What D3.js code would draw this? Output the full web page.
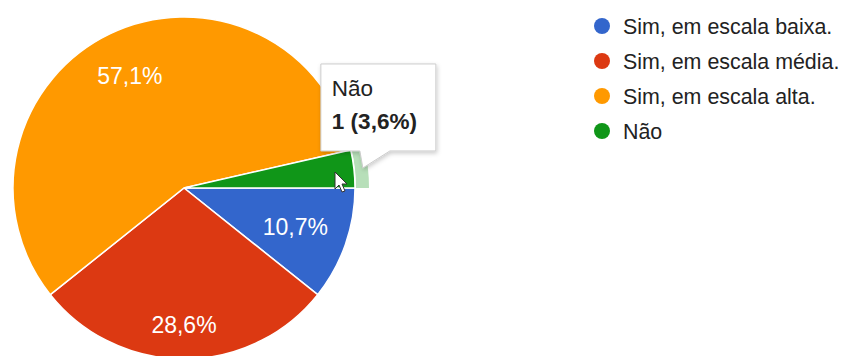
<!DOCTYPE html>
<html>
<head>
<meta charset="utf-8">
<script src="https://cdn.jsdelivr.net/npm/d3@7/dist/d3.min.js"></script>
<style>
  html, body { margin: 0; padding: 0; background: #fff; }
  svg { display: block; font-family: "Liberation Sans", Arial, sans-serif; }
</style>
</head>
<body>
<svg id="chart" width="858" height="356"></svg>
<script>
// Survey answers and response counts
const categories = ["Sim, em escala baixa.", "Sim, em escala média.", "Sim, em escala alta.", "Não"];
const counts = [3, 8, 16, 1];
const colors = ["#3366cc", "#dc3912", "#ff9900", "#109618"];
const highlighted = "Não";

const total = d3.sum(counts);
const fmtPct = v => (v * 100).toFixed(1).replace(".", ",") + "%";

const svg = d3.select("#chart");
const cx = 184, cy = 188, R = 171;

// label distance from centre, as a fraction of the radius
const labelFrac = {"Sim, em escala baixa.": 0.69, "Sim, em escala média.": 0.8, "Sim, em escala alta.": 0.73, "Não": 0.7};

const color = d3.scaleOrdinal().domain(categories).range(colors);

const pie = d3.pie()
  .sort(null)
  .value(d => d.count)
  .startAngle(Math.PI / 2)
  .endAngle(Math.PI / 2 + 2 * Math.PI);

const data = categories.map((c, i) => ({ cat: c, count: counts[i] }));
const arcs = pie(data);

const g = svg.append("g").attr("transform", `translate(${cx},${cy})`);
const arc = d3.arc().innerRadius(0).outerRadius(R);

// hover ring around the highlighted slice
const hov = arcs.find(a => a.data.cat === highlighted);
g.append("path")
  .attr("d", d3.arc().innerRadius(R + 1).outerRadius(R + 14)(hov))
  .attr("fill", color(highlighted))
  .attr("opacity", 0.3);

g.selectAll("path.slice")
  .data(arcs)
  .join("path")
  .attr("class", "slice")
  .attr("d", arc)
  .attr("fill", d => color(d.data.cat))
  .attr("stroke", "#fff")
  .attr("stroke-width", 1.5);

// percentage labels inside large slices
g.selectAll("text.pct")
  .data(arcs.filter(d => d.data.count / total > 0.05))
  .join("text")
  .attr("class", "pct")
  .attr("transform", d => {
    const a = (d.startAngle + d.endAngle) / 2;
    const r = R * labelFrac[d.data.cat];
    return `translate(${Math.sin(a) * r},${-Math.cos(a) * r})`;
  })
  .attr("text-anchor", "middle")
  .attr("dy", "0.36em")
  .attr("fill", "#fff")
  .attr("font-size", 23)
  .text(d => fmtPct(d.data.count / total));

// legend
const legend = svg.append("g").attr("transform", "translate(602,26)");
const li = legend.selectAll("g").data(categories).join("g")
  .attr("transform", (d, i) => `translate(0,${i * 35})`);
li.append("circle").attr("r", 8).attr("fill", d => color(d));
li.append("text")
  .attr("x", 21).attr("dy", "0.36em")
  .attr("font-size", 21.4)
  .attr("fill", "#222")
  .text(d => d);

// tooltip for the hovered slice
const ma = (hov.startAngle + hov.endAngle) / 2;
const tip = [cx + Math.sin(ma) * (R + 8), cy - Math.cos(ma) * (R + 8)];
const bx = tip[0] - 41, by = tip[1] - 104, bw = 115, bh = 87;

const defs = svg.append("defs");
const f = defs.append("filter").attr("id", "shadow").attr("x", "-20%").attr("y", "-20%").attr("width", "140%").attr("height", "140%");
f.append("feDropShadow").attr("dx", 1).attr("dy", 2).attr("stdDeviation", 2).attr("flood-color", "#000").attr("flood-opacity", 0.2);

const tt = svg.append("g").attr("filter", "url(#shadow)");
tt.append("path")
  .attr("d", `M${bx},${by} H${bx + bw} V${by + bh} H${tip[0] + 28} L${tip[0] + 1},${tip[1]} L${tip[0] - 2},${by + bh} H${bx} Z`)
  .attr("fill", "#fff")
  .attr("stroke", "#ccc")
  .attr("stroke-width", 1);

svg.append("text")
  .attr("x", bx + 11).attr("y", by + 32)
  .attr("font-size", 22.5).attr("fill", "#222")
  .text(hov.data.cat);
svg.append("text")
  .attr("x", bx + 11).attr("y", by + 65)
  .attr("font-size", 22.5).attr("font-weight", "bold").attr("fill", "#222")
  .text(`${hov.data.count} (${fmtPct(hov.data.count / total)})`);

// mouse pointer
svg.append("path")
  .attr("transform", "translate(335,172)")
  .attr("d", "M0,0 L0,17 L4,13 L7,20 L10,19 L7,12 L12,12 Z")
  .attr("fill", "#fff")
  .attr("stroke", "#333")
  .attr("stroke-width", 1);
</script>
</body>
</html>
